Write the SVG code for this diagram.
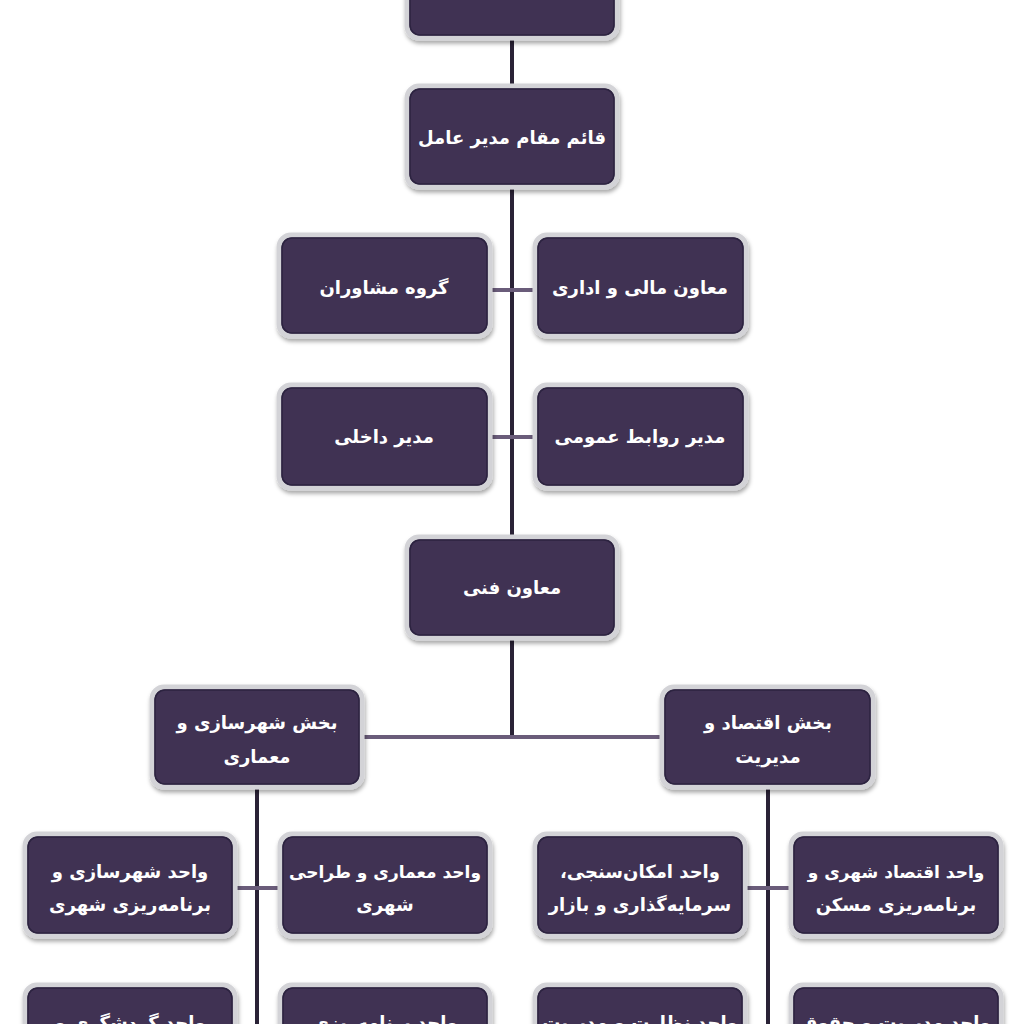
<svg xmlns="http://www.w3.org/2000/svg" width="1024" height="1024" viewBox="0 0 1024 1024">
<defs>
<filter id="sh" x="-10%" y="-10%" width="120%" height="130%">
<feDropShadow dx="1" dy="3" stdDeviation="2" flood-color="#000" flood-opacity="0.35"/>
</filter>
</defs>
<style>
.box{fill:#403352;stroke:#d3d3d7;stroke-width:5;filter:url(#sh)}
.in{fill:none;stroke:#2c2340;stroke-width:1.5}
.t{fill:#ffffff;font-family:"DejaVu Sans",sans-serif;font-weight:bold;font-size:18px;text-anchor:middle;direction:rtl}
.v{stroke:#2a2236;stroke-width:4;fill:none}
.h{stroke:#6a5c7a;stroke-width:4;fill:none}
</style>
<rect width="1024" height="1024" fill="#ffffff"/>
<g id="connectors">
<line class="v" x1="512" y1="40" x2="512" y2="86"/>
<line class="v" x1="512" y1="188" x2="512" y2="537"/>
<line class="h" x1="491" y1="290" x2="533" y2="290"/>
<line class="h" x1="491" y1="437" x2="533" y2="437"/>
<line class="v" x1="512" y1="640" x2="512" y2="737"/>
<line class="h" x1="363" y1="737" x2="660" y2="737"/>
<line class="v" x1="257" y1="789" x2="257" y2="1024"/>
<line class="v" x1="768" y1="789" x2="768" y2="1024"/>
<line class="h" x1="236" y1="888" x2="278" y2="888"/>
<line class="h" x1="747" y1="888" x2="789" y2="888"/>
</g>
<g id="n-top"><rect class="box" x="407" y="-20" width="210" height="58" rx="12"/><rect class="in" x="410" y="-17" width="204" height="52" rx="10"/></g>
<g id="n-deputy"><rect class="box" x="407" y="86" width="210" height="101" rx="12"/><rect class="in" x="410" y="89" width="204" height="95" rx="10"/><text class="t" x="512" y="144">قائم مقام مدیر عامل</text></g>
<g id="n-advisors"><rect class="box" x="279" y="235" width="211" height="101" rx="12"/><rect class="in" x="282" y="238" width="205" height="95" rx="10"/><text class="t" x="384" y="294">گروه مشاوران</text></g>
<g id="n-finance"><rect class="box" x="535" y="235" width="211" height="101" rx="12"/><rect class="in" x="538" y="238" width="205" height="95" rx="10"/><text class="t" x="640" y="294">معاون مالی و اداری</text></g>
<g id="n-internal"><rect class="box" x="279" y="385" width="211" height="103" rx="12"/><rect class="in" x="282" y="388" width="205" height="97" rx="10"/><text class="t" x="384" y="443">مدیر داخلی</text></g>
<g id="n-pr"><rect class="box" x="535" y="385" width="211" height="103" rx="12"/><rect class="in" x="538" y="388" width="205" height="97" rx="10"/><text class="t" x="640" y="443">مدیر روابط عمومی</text></g>
<g id="n-tech"><rect class="box" x="407" y="537" width="210" height="101" rx="12"/><rect class="in" x="410" y="540" width="204" height="95" rx="10"/><text class="t" x="512" y="594">معاون فنی</text></g>
<g id="n-urban"><rect class="box" x="152" y="687" width="210" height="100" rx="12"/><rect class="in" x="155" y="690" width="204" height="94" rx="10"/><text class="t" x="257" y="729">بخش شهرسازی  و</text><text class="t" x="257" y="763">معماری</text></g>
<g id="n-econ"><rect class="box" x="662" y="687" width="211" height="100" rx="12"/><rect class="in" x="665" y="690" width="205" height="94" rx="10"/><text class="t" x="768" y="729">بخش اقتصاد  و</text><text class="t" x="768" y="763">مدیریت</text></g>
<g id="n-u1"><rect class="box" x="25" y="834" width="210" height="102" rx="12"/><rect class="in" x="28" y="837" width="204" height="96" rx="10"/><text class="t" x="130" y="878">واحد شهرسازی و</text><text class="t" x="130" y="911">برنامه&#8204;ریزی شهری</text></g>
<g id="n-u2"><rect class="box" x="280" y="834" width="210" height="102" rx="12"/><rect class="in" x="283" y="837" width="204" height="96" rx="10"/><text class="t" x="385" y="878" style="font-size:17px">واحد معماری و طراحی</text><text class="t" x="385" y="911">شهری</text></g>
<g id="n-e1"><rect class="box" x="535" y="834" width="210" height="102" rx="12"/><rect class="in" x="538" y="837" width="204" height="96" rx="10"/><text class="t" x="640" y="878">واحد امکان&#8204;سنجی،</text><text class="t" x="640" y="911">سرمایه&#8204;گذاری و بازار</text></g>
<g id="n-e2"><rect class="box" x="791" y="834" width="210" height="102" rx="12"/><rect class="in" x="794" y="837" width="204" height="96" rx="10"/><text class="t" x="896" y="878" style="font-size:17px">واحد اقتصاد شهری  و</text><text class="t" x="896" y="911">برنامه&#8204;ریزی مسکن</text></g>
<g id="n-u3"><rect class="box" x="25" y="985" width="210" height="102" rx="12"/><rect class="in" x="28" y="988" width="204" height="96" rx="10"/><text class="t" x="130" y="1029">واحد گردشگری و</text></g>
<g id="n-u4"><rect class="box" x="280" y="985" width="210" height="102" rx="12"/><rect class="in" x="283" y="988" width="204" height="96" rx="10"/><text class="t" x="385" y="1029">واحد برنامه&#8204;ریزی</text></g>
<g id="n-e3"><rect class="box" x="535" y="985" width="210" height="102" rx="12"/><rect class="in" x="538" y="988" width="204" height="96" rx="10"/><text class="t" x="640" y="1029">واحد نظارت و مدیریت</text></g>
<g id="n-e4"><rect class="box" x="791" y="985" width="210" height="102" rx="12"/><rect class="in" x="794" y="988" width="204" height="96" rx="10"/><text class="t" x="896" y="1029">واحد مدیریت و حقوق</text></g>
</svg>
